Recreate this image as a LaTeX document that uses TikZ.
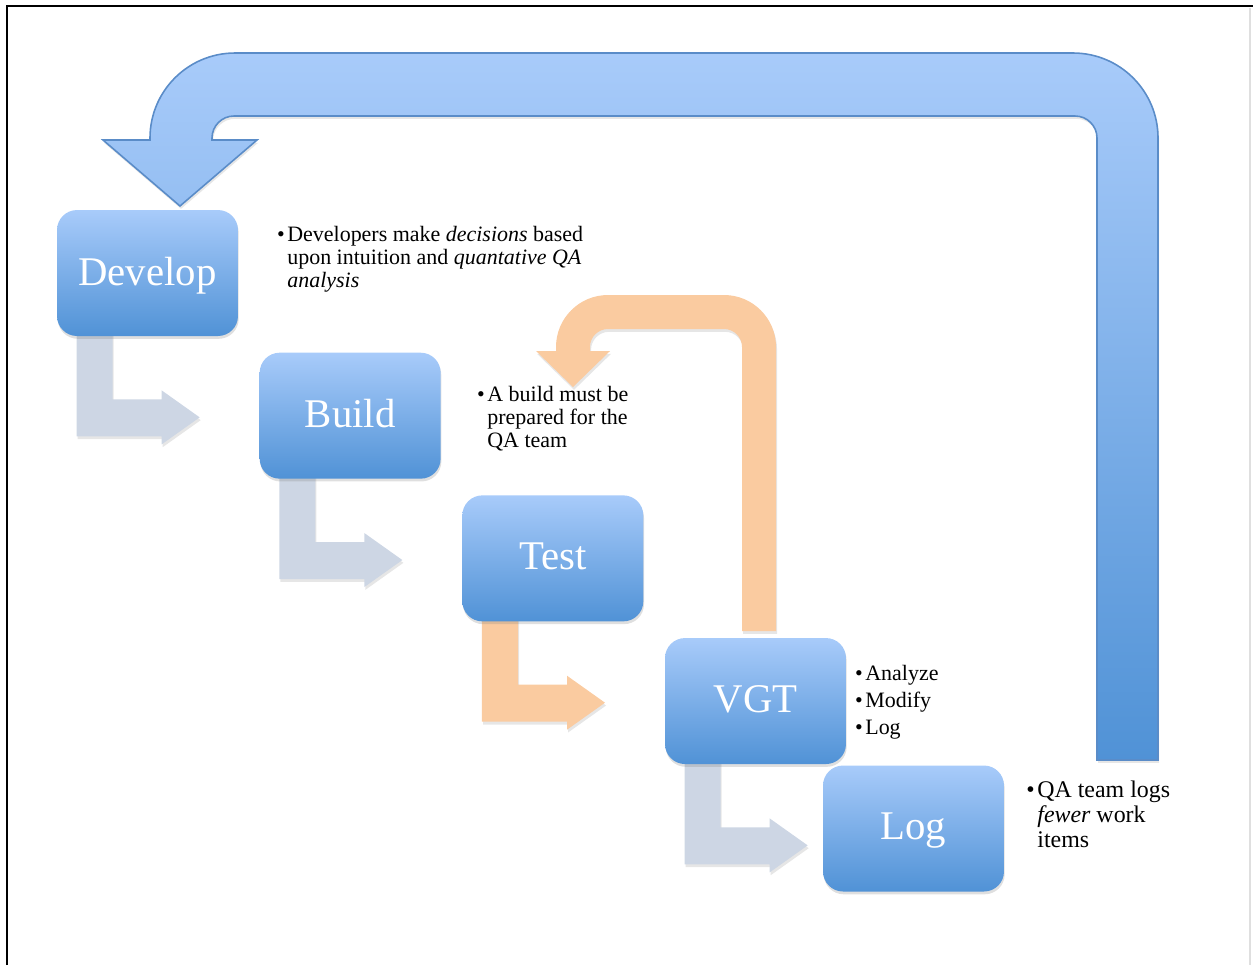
\documentclass[tikz,border=0pt]{standalone}
\usepackage{fontspec}
\setmainfont{Liberation Serif}
\usetikzlibrary{positioning}
\usetikzlibrary{shadows}
\usetikzlibrary{backgrounds}
\definecolor{boxtop}{RGB}{168,203,250}
\definecolor{boxbot}{RGB}{80,146,214}
\definecolor{bentgray}{RGB}{205,214,228}
\definecolor{bentorange}{RGB}{250,203,160}
\definecolor{loopline}{RGB}{90,140,200}
\tikzstyle{stage} = [rounded corners=0.4cm, minimum width=3.62cm, minimum height=2.52cm,
  top color=boxtop, bottom color=boxbot, text=white, text depth=0.5ex,
  font=\fontsize{23.2}{27}\selectfont,
  drop shadow={opacity=0.25, shadow xshift=0.4pt, shadow yshift=-1.6pt}]
\tikzstyle{note} = [inner sep=0pt, align=left, font=\fontsize{12.5}{13.1}\selectfont]
\tikzstyle{bent} = [drop shadow={opacity=0.2, shadow xshift=0.6pt, shadow yshift=-1.6pt}]
\newcommand{\bitem}{\makebox[0pt][r]{\textbullet\hspace{1.5pt}}}

\begin{document}
\begin{tikzpicture}[x=0.02cm, y=-0.02cm]
    \useasboundingbox (0,0) rectangle (1253,965);
    % frame
    \draw[gray!25, line width=1pt] (1250,8) -- (1250,965);
    \draw[line width=1.5pt] (7,965) -- (7,6) -- (1253,6);

    % big loop back to develop
    \draw[loopline, line width=0.9pt, top color=boxtop, bottom color=boxbot,
          drop shadow={opacity=0.2, shadow xshift=0.6pt, shadow yshift=-1.6pt}]
        (1097,760) -- (1097,138) arc[start angle=0, end angle=-90, radius=22]
        -- (234,116) arc[start angle=-90, end angle=-180, radius=22]
        -- (212,140) -- (257,140) -- (180,206) -- (103,140) -- (150,140)
        -- (150,138) arc[start angle=180, end angle=270, radius=85]
        -- (1073,53) arc[start angle=270, end angle=360, radius=85]
        -- (1158,760) -- cycle;

    % small loop from vgt back to build
    \fill[bentorange, bent]
        (742,631) -- (742,347) arc[start angle=0, end angle=-90, radius=18]
        -- (608,329) arc[start angle=-90, end angle=-180, radius=18]
        -- (590,351) -- (610,351) -- (573,387) -- (536,351) -- (556,351)
        -- (556,347) arc[start angle=180, end angle=270, radius=52]
        -- (724,295) arc[start angle=270, end angle=360, radius=52]
        -- (776,631) -- cycle;

    \node[stage] (develop) at (147.5,273) {Develop};
    \node[stage, below right=0.32cm and 0.42cm of develop] (build) {Build};
    \node[stage, below right=0.32cm and 0.42cm of build] (test) {Test};
    \node[stage, below right=0.32cm and 0.42cm of test] (vgt) {VGT};
    \node[stage] (log) at (913.5,828.5) {Log};

    % steps between stages
    \begin{scope}[on background layer]
    \foreach \stg/\tint in {develop/bentgray, build/bentgray, test/bentorange, vgt/bentgray}
        \fill[\tint, bent, shift={(\stg.south west)}]
            (20,-4) -- (56,-4) -- (56,63) -- (105,63) -- (105,54) -- (143,81)
            -- (105,108) -- (105,100) -- (20,100) -- cycle;
    \end{scope}

    \node[note, anchor=north west] (devnote) at (287,226)
        {\bitem Developers make \emph{decisions} based\\
         upon intuition and \emph{quantative QA}\\
         \emph{analysis}};
    \node[note, anchor=north west] (buildnote) at (487,386)
        {\bitem A build must be\\prepared for the\\QA team};
    \node[note, anchor=north west, font=\fontsize{12.5}{15.4}\selectfont] (vgtnote) at (865,665)
        {\bitem Analyze\\\bitem Modify\\\bitem Log};
    \node[note, anchor=north west, font=\fontsize{13.6}{14.2}\selectfont] (lognote) at (1037,781)
        {\bitem QA team logs\\\emph{fewer} work\\items};
\end{tikzpicture}
\end{document}
